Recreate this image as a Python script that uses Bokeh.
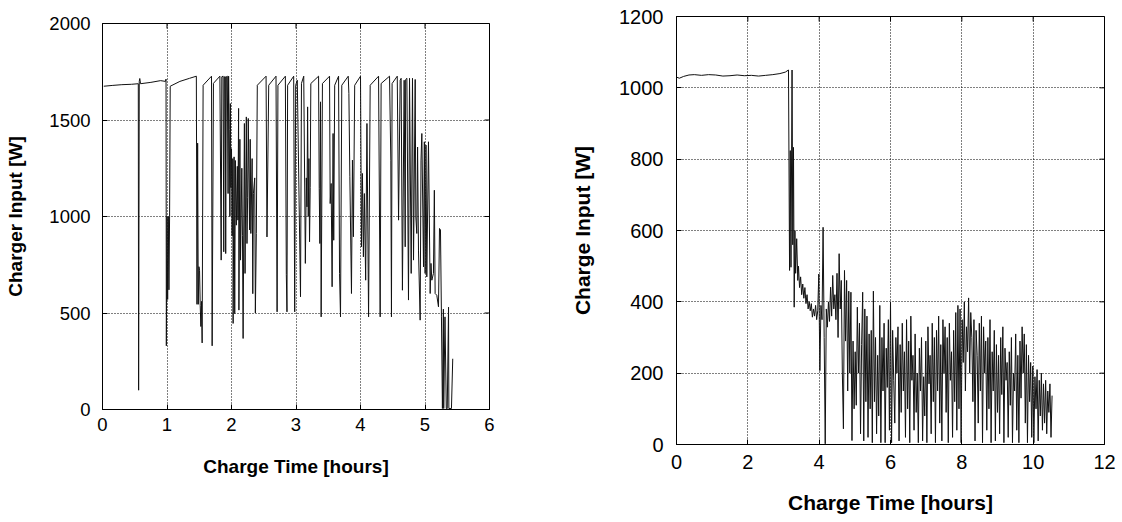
import math
from bokeh.plotting import figure
from bokeh.layouts import row, column
from bokeh.models import FixedTicker, Range1d, Spacer
from bokeh.embed import file_html
from bokeh.resources import INLINE

# ---------------- Left chart: Charger Input [W] vs Charge Time [hours] ----------------
left_t = [0.02, 0.15, 0.30, 0.45, 0.555, 0.560, 0.570, 0.578, 0.590, 0.75, 0.90, 0.975, 0.985, 0.990,
          1.000, 1.010, 1.020, 1.030, 1.040, 1.050, 1.20, 1.35, 1.455, 1.465, 1.475, 1.485, 1.495, 1.505,
          1.515, 1.525, 1.535, 1.545, 1.560, 1.690, 1.700, 1.720, 1.820, 1.840, 1.850, 1.870, 1.880, 1.890,
          1.905, 1.910, 1.920, 1.935, 1.947, 1.955, 1.965, 1.975, 1.983, 1.99, 2.00, 2.01, 2.02, 2.025,
          2.04, 2.05, 2.06, 2.075, 2.09, 2.10, 2.11, 2.115, 2.13, 2.14, 2.16, 2.17, 2.18, 2.20, 2.21, 2.23,
          2.24, 2.25, 2.26, 2.28, 2.29, 2.30, 2.32, 2.33, 2.34, 2.36, 2.37, 2.385, 2.40, 2.536, 2.55, 2.577,
          2.69, 2.707, 2.72, 2.835, 2.85, 2.86, 2.87, 2.964, 2.98, 2.995, 3.02, 3.07, 3.085, 3.12, 3.145,
          3.16, 3.17, 3.18, 3.19, 3.20, 3.21, 3.22, 3.23, 3.35, 3.36, 3.37, 3.38, 3.39, 3.41, 3.52, 3.53,
          3.545, 3.56, 3.575, 3.585, 3.60, 3.66, 3.675, 3.69, 3.71, 3.81, 3.82, 3.835, 3.86, 3.875, 3.89,
          3.91, 4.00, 4.015, 4.03, 4.045, 4.06, 4.08, 4.10, 4.125, 4.15, 4.28, 4.305, 4.32, 4.45, 4.47,
          4.48, 4.49, 4.57, 4.59, 4.615, 4.63, 4.65, 4.677, 4.693, 4.70, 4.719, 4.744, 4.76, 4.786, 4.806,
          4.822, 4.848, 4.858, 4.873, 4.885, 4.899, 4.925, 4.938, 4.951, 4.977, 4.99, 5.002, 5.015, 5.028,
          5.054, 5.08, 5.093, 5.106, 5.131, 5.145, 5.157, 5.183, 5.209, 5.225, 5.24, 5.255, 5.27, 5.285,
          5.29, 5.31, 5.33, 5.345, 5.365, 5.37, 5.41, 5.43]
left_p = [1675, 1679, 1683, 1685, 1688, 100, 1700, 1715, 1688, 1695, 1704, 1700, 1712, 330,
          1000, 570, 1000, 620, 1000, 1675, 1700, 1716, 1727, 545, 1380, 545, 740, 720,
          540, 430, 560, 345, 1680, 1727, 330, 1690, 1727, 774, 1724, 1727, 817, 1724,
          1724, 808, 1724, 1727, 1119, 1727, 1450, 1000, 1585, 1150, 1350, 900, 1300, 446,
          1309, 497, 1290, 955, 1260, 981, 1560, 515, 1400, 774, 1250, 900, 368, 1482, 705, 1516,
          860, 1100, 1508, 930, 1400, 912, 1300, 600, 1120, 1200, 500, 912, 1680, 1727, 894, 1680,
          1727, 506, 1680, 1727, 700, 506, 1680, 1727, 506, 1680, 1706, 584, 1690, 1727, 757,
          1200, 1050, 1568, 1000, 1300, 869, 1150, 1689, 1727, 1145, 860, 1594, 480, 1689, 1727, 1067,
          1171, 636, 1430, 877, 1680, 1727, 705, 480, 1680, 1727, 1637, 1206, 601, 1292, 895,
          1680, 1727, 843, 1223, 791, 1119, 670, 1482, 480, 1680, 1727, 480, 1689, 1727, 1292,
          480, 1689, 1727, 981, 1706, 1716, 618, 1706, 843, 1710, 1716, 567, 1716, 705, 1716,
          774, 1710, 998, 912, 1360, 826, 463, 1292, 1430, 739, 1387, 705, 1370, 687,
          1387, 601, 757, 670, 705, 1136, 601, 592, 532, 938, 930, 480, 5, 520,
          5, 480, 5, 5, 530, 5, 5, 263]
left_xticks = [0, 1, 2, 3, 4, 5, 6]
left_yticks = [0, 500, 1000, 1500, 2000]

# ---------------- Right chart: Charge Input [W] vs Charge Time [hours] ----------------
right_t_head = [0.00, 0.08, 0.20, 0.35, 0.50, 0.70, 0.90, 1.10, 1.30, 1.50, 1.70, 1.90, 2.10, 2.30,
                2.50, 2.70, 2.90, 3.05, 3.14, 3.17, 3.19, 3.21, 3.24, 3.26, 3.28, 3.30, 3.32, 3.34,
                3.37, 3.40, 3.42, 3.45, 3.48, 3.51, 3.54, 3.57, 3.60, 3.63, 3.66, 3.69, 3.72, 3.75,
                3.78, 3.81, 3.84, 3.87, 3.90, 3.93, 3.96, 3.99]
right_p_head = [1030, 1027, 1032, 1036, 1037, 1035, 1037, 1036, 1033, 1034, 1036, 1034, 1035, 1033,
                1035, 1037, 1040, 1044, 1050, 488, 824, 497, 1050, 560, 833, 385, 600, 480,
                577, 460, 500, 440, 470, 420, 450, 410, 440, 395, 420, 380, 400, 375,
                395, 357, 380, 360, 390, 350, 375, 478]
# logged samples after the tapering phase: first sample time and logging interval [hours]
right_tail_start = 4.02
right_tail_dt = 0.03
right_p_tail = [207, 390, 350, 609, 300, 2, 380, 329, 400, 345,
                441, 360, 474, 380, 420, 350, 480, 300, 535, 380,
                460, 200, 44, 488, 290, 460, 150, 430, 200, 427,
                11, 290, 100, 260, 110, 385, 200, 340, 30, 280,
                427, 10, 380, 120, 360, 20, 310, 100, 320, 5,
                430, 120, 300, 30, 250, 80, 390, 5, 300, 150,
                340, 5, 270, 160, 350, 40, 399, 5, 320, 180,
                60, 300, 200, 330, 10, 280, 90, 340, 150, 260,
                20, 350, 100, 290, 5, 360, 180, 250, 40, 310,
                90, 200, 5, 270, 150, 300, 10, 190, 80, 290,
                5, 330, 170, 250, 30, 340, 120, 300, 5, 320,
                150, 360, 60, 280, 10, 350, 200, 330, 90, 300,
                5, 340, 180, 260, 20, 320, 120, 370, 40, 390,
                100, 380, 5, 350, 230, 400, 150, 330, 260, 411,
                200, 370, 300, 120, 350, 10, 320, 250, 60, 340,
                150, 360, 5, 330, 200, 290, 40, 300, 100, 350,
                5, 260, 150, 320, 10, 280, 90, 250, 30, 300,
                140, 330, 5, 270, 180, 230, 20, 260, 110, 300,
                5, 200, 150, 310, 40, 250, 5, 290, 130, 330,
                200, 310, 60, 280, 5, 250, 120, 230, 20, 220,
                5, 190, 100, 210, 10, 180, 80, 200, 40, 170,
                60, 180, 30, 150, 90, 170, 20, 137]
right_xticks = [0, 2, 4, 6, 8, 10, 12]
right_yticks = [0, 200, 400, 600, 800, 1000, 1200]

right_t = right_t_head + [right_tail_start + i * right_tail_dt for i in range(len(right_p_tail))]
right_p = right_p_head + right_p_tail

FONT = "Liberation Sans"


def make_fig(xs, ys, xticks, yticks, xlabel, ylabel, width, height, borders, tick_fs, label_fs,
             ylab_standoff, xlab_standoff, ytick_standoff, xtick_standoff):
    left, right, top, bottom = borders
    p = figure(width=width, height=height, output_backend="svg", toolbar_location=None,
               x_range=Range1d(xticks[0], xticks[-1]), y_range=Range1d(yticks[0], yticks[-1]),
               min_border_left=left, min_border_right=right, min_border_top=top,
               min_border_bottom=bottom)
    p.background_fill_color = "white"
    p.border_fill_color = "white"
    p.outline_line_color = "black"
    p.outline_line_width = 1

    for g, ticks in ((p.xgrid[0], xticks), (p.ygrid[0], yticks)):
        g.ticker = FixedTicker(ticks=ticks)
        g.grid_line_color = "black"
        g.grid_line_dash = "1 2"
        g.grid_line_width = 1

    p.line(xs, ys, line_color="#111111", line_width=1)

    # mirrored inward tick marks on the top and right frame edges
    p.scatter(xticks, [yticks[-1]] * len(xticks), marker="dash", size=10, angle=math.pi / 2,
              line_color="black", line_width=1)
    p.scatter([xticks[-1]] * len(yticks), yticks, marker="dash", size=10, angle=0,
              line_color="black", line_width=1)

    for ax, ticks, lab, lstand, tstand in ((p.xaxis[0], xticks, xlabel, xlab_standoff, xtick_standoff),
                                           (p.yaxis[0], yticks, ylabel, ylab_standoff, ytick_standoff)):
        ax.ticker = FixedTicker(ticks=ticks)
        ax.axis_label = lab
        ax.axis_label_text_font = FONT
        ax.axis_label_text_font_style = "bold"
        ax.axis_label_text_font_size = label_fs
        ax.axis_label_text_color = "black"
        ax.axis_label_standoff = lstand
        ax.major_label_text_font = FONT
        ax.major_label_text_font_size = tick_fs
        ax.major_label_text_color = "black"
        ax.major_label_standoff = tstand
        ax.major_tick_in = 5
        ax.major_tick_out = 0
        ax.minor_tick_line_color = None
        ax.axis_line_color = "black"
        ax.major_tick_line_color = "black"
    return p


left_fig = make_fig(left_t, left_p, left_xticks, left_yticks, "Charge Time [hours]", "Charger Input [W]",
                    width=529, height=482, borders=(102, 40, 16, 80), tick_fs="18.5px", label_fs="19px",
                    ylab_standoff=20, xlab_standoff=22, ytick_standoff=12, xtick_standoff=8)
right_fig = make_fig(right_t, right_p, right_xticks, right_yticks, "Charge Time [hours]", "Charge Input [W]",
                     width=587, height=522, borders=(147, 12, 16, 78), tick_fs="20px", label_fs="21px",
                     ylab_standoff=22, xlab_standoff=19, ytick_standoff=13, xtick_standoff=10)

layout = row(column(Spacer(width=529, height=7), left_fig), column(right_fig))
open("out.html", "w").write(file_html(layout, INLINE))
